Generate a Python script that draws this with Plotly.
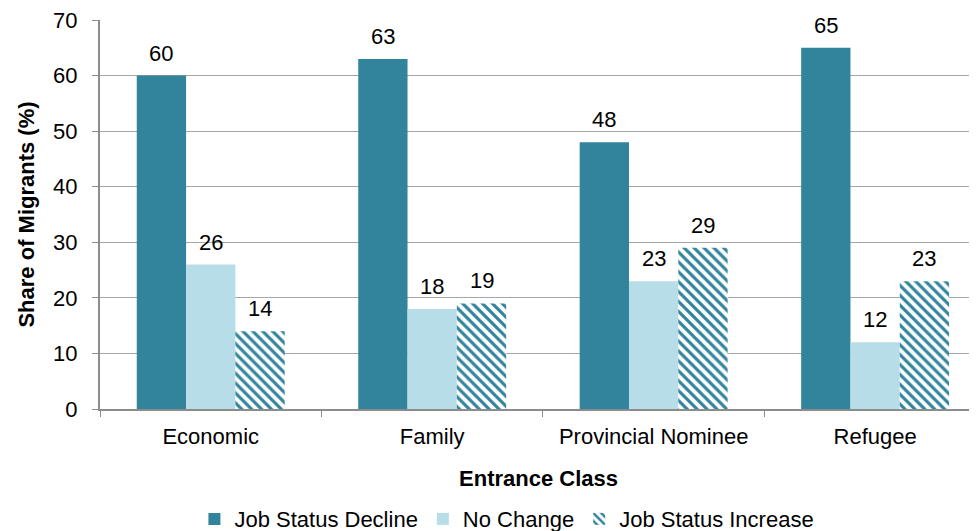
import plotly.graph_objects as go

categories = ["Economic", "Family", "Provincial Nominee", "Refugee"]
series_names = ["Job Status Decline", "No Change", "Job Status Increase"]
decline = [60, 63, 48, 65]
no_change = [26, 18, 23, 12]
increase = [14, 19, 29, 23]

DARK = "#31849b"
LIGHT = "#b7dee8"
FONT = "Liberation Sans, Arial, sans-serif"
FS = 22
BARGAP = 0.332

fig = go.Figure()
fig.add_trace(go.Bar(name=series_names[0], x=categories, y=decline,
                     marker=dict(color=DARK, line=dict(width=0))))
fig.add_trace(go.Bar(name=series_names[1], x=categories, y=no_change,
                     marker=dict(color=LIGHT, line=dict(width=0))))
fig.add_trace(go.Bar(name=series_names[2], x=categories, y=increase,
                     marker=dict(color="white", line=dict(width=0),
                                 pattern=dict(shape="\\", fgcolor=DARK, bgcolor="white",
                                              size=7, solidity=0.45, fillmode="replace"))))

# value labels above bars (positioned on the category axis by index + group offset)
w = (1 - BARGAP) / 3
for j, vals in enumerate([decline, no_change, increase]):
    for i, v in enumerate(vals):
        fig.add_annotation(x=i + (j - 1) * w, y=v, xref="x", yref="y",
                           text=str(v), showarrow=False, yanchor="bottom",
                           yshift=8, font=dict(size=FS, color="black", family=FONT))

fig.update_layout(
    width=969, height=523,
    margin=dict(l=92, r=0, t=12, b=122, autoexpand=False),
    paper_bgcolor="white", plot_bgcolor="white",
    font=dict(family=FONT, size=FS, color="black"),
    barmode="group", bargap=BARGAP, bargroupgap=0,
    legend=dict(orientation="h", x=0.464, xanchor="center", y=-0.283, yanchor="middle",
                font=dict(size=FS), itemwidth=30, traceorder="normal"),
    showlegend=True,
)
fig.update_xaxes(
    range=[-0.5, 3.46], showgrid=False, showline=True, linecolor="#8c8c8c", linewidth=2,
    ticks="outside", tickson="boundaries", ticklen=6, tickcolor="#8c8c8c",
    tickfont=dict(size=FS), automargin=False, ticklabelstandoff=7,
    title=dict(text="<b>Entrance Class</b>", font=dict(size=FS), standoff=22),
)
fig.update_yaxes(
    range=[0, 70], dtick=10, showgrid=True, gridcolor="#a6a6a6", gridwidth=1,
    showline=True, linecolor="#8c8c8c", linewidth=2,
    ticks="outside", ticklen=6, tickcolor="#8c8c8c", tickfont=dict(size=FS),
    ticklabelstandoff=10, ticklabeloverflow="allow", zeroline=False, automargin=False,
    title=dict(text="<b>Share of Migrants (%)</b>", font=dict(size=FS), standoff=12),
)

fig.write_html("out.html")
